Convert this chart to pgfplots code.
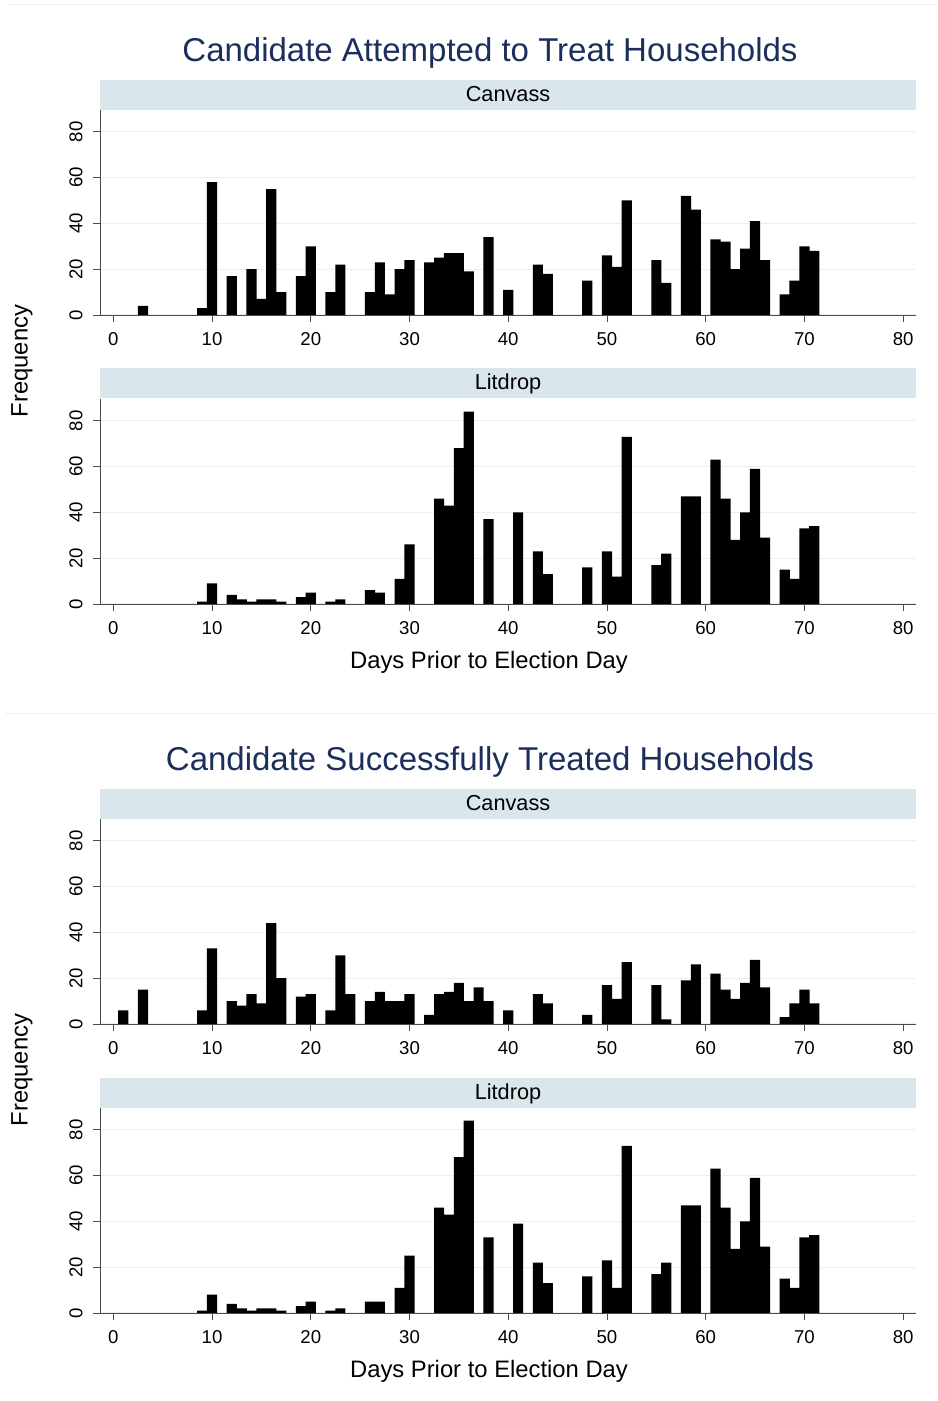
\documentclass[border=0pt]{standalone}
\usepackage{fontspec}
\setmainfont{Liberation Sans}
\usepackage{pgfplots}
\pgfplotsset{compat=1.18}

\definecolor{titleblue}{RGB}{28,46,92}
\definecolor{stripbg}{RGB}{217,230,235}
\definecolor{gridc}{RGB}{232,240,242}
\definecolor{sepc}{RGB}{238,240,242}

% one facet panel, sized in px (1pt = 1px of the reference)
\pgfplotsset{panel/.style={
  scale only axis, width=816pt, height=205pt, anchor=south west,
  xmin=-1.35, xmax=81.3, ymin=0, ymax=89.5,
  axis lines=left, axis line style={-, black!70, line width=0.9pt},
  xtick={0,10,...,80}, ytick={0,20,...,80},
  tick align=outside, major tick length=7pt,
  tick style={black!70, line width=0.9pt},
  ymajorgrids, major grid style={gridc, line width=1pt},
  tick label style={font=\fontsize{18.6}{20}\selectfont},
  /pgf/number format/assume math mode=true,
  xticklabel style={yshift=-7pt},
  yticklabel style={xshift=-7pt, rotate=90, anchor=south},
  ybar, bar width=1.03,
}}

\begin{document}
\begin{tikzpicture}[x=1pt, y=1pt]
\fill[white] (0,0) rectangle (937,1401);
\draw[sepc, line width=1pt] (8,1396) -- (937,1396);
\draw[sepc, line width=1pt] (5,687) -- (937,687);

% ---- Attempted: Canvass
\begin{axis}[panel, at={(100pt,1086pt)}]
\addplot[fill=black, draw=none] coordinates {
(3,4) (9,3) (10,58) (12,17) (14,20) (15,7) (16,55) (17,10) (19,17) (20,30)
(22,10) (23,22) (26,10) (27,23) (28,9) (29,20) (30,24) (32,23) (33,25) (34,27)
(35,27) (36,19) (38,34) (40,11) (43,22) (44,18) (48,15) (50,26) (51,21) (52,50)
(55,24) (56,14) (58,52) (59,46) (61,33) (62,32) (63,20) (64,29) (65,41) (66,24)
(68,9) (69,15) (70,30) (71,28)
};
\end{axis}

% ---- Attempted: Litdrop
\begin{axis}[panel, at={(100pt,797pt)}]
\addplot[fill=black, draw=none] coordinates {
(9,1) (10,9) (12,4) (13,2) (14,1) (15,2) (16,2) (17,1) (19,3) (20,5)
(22,1) (23,2) (26,6) (27,5) (29,11) (30,26) (33,46) (34,43) (35,68) (36,84)
(38,37) (41,40) (43,23) (44,13) (48,16) (50,23) (51,12) (52,73) (55,17) (56,22)
(58,47) (59,47) (61,63) (62,46) (63,28) (64,40) (65,59) (66,29) (68,15) (69,11)
(70,33) (71,34)
};
\end{axis}

% ---- Successful: Canvass
\begin{axis}[panel, at={(100pt,377pt)}]
\addplot[fill=black, draw=none] coordinates {
(1,6) (3,15) (9,6) (10,33) (12,10) (13,8) (14,13) (15,9) (16,44) (17,20)
(19,12) (20,13) (22,6) (23,30) (24,13) (26,10) (27,14) (28,10) (29,10) (30,13)
(32,4) (33,13) (34,14) (35,18) (36,10) (37,16) (38,10) (40,6) (43,13) (44,9)
(48,4) (50,17) (51,11) (52,27) (55,17) (56,2) (58,19) (59,26) (61,22) (62,15)
(63,11) (64,18) (65,28) (66,16) (68,3) (69,9) (70,15) (71,9)
};
\end{axis}

% ---- Successful: Litdrop
\begin{axis}[panel, at={(100pt,88pt)}]
\addplot[fill=black, draw=none] coordinates {
(9,1) (10,8) (12,4) (13,2) (14,1) (15,2) (16,2) (17,1) (19,3) (20,5)
(22,1) (23,2) (26,5) (27,5) (29,11) (30,25) (33,46) (34,43) (35,68) (36,84)
(38,33) (41,39) (43,22) (44,13) (48,16) (50,23) (51,11) (52,73) (55,17) (56,22)
(58,47) (59,47) (61,63) (62,46) (63,28) (64,40) (65,59) (66,29) (68,15) (69,11)
(70,33) (71,34)
};
\end{axis}

% strips
\foreach \yb/\lab in {1291/Canvass, 1003/Litdrop, 582/Canvass, 293/Litdrop}{
  \fill[stripbg] (100,\yb) rectangle (916,\yb+30);
  \node[font=\fontsize{21.7}{24}\selectfont, anchor=base, inner sep=0pt] at (508,\yb+8) {\lab};
}

% titles and axis titles
\node[titleblue, font=\fontsize{33}{38}\selectfont] at (490,1348) {Candidate Attempted to Treat Households};
\node[titleblue, font=\fontsize{33}{38}\selectfont] at (490,639) {Candidate Successfully Treated Households};
\node[font=\fontsize{23.8}{26}\selectfont] at (489,739) {Days Prior to Election Day};
\node[font=\fontsize{23.8}{26}\selectfont] at (489,30) {Days Prior to Election Day};
\node[font=\fontsize{23.8}{26}\selectfont, rotate=90] at (22,1040) {Frequency};
\node[font=\fontsize{23.8}{26}\selectfont, rotate=90] at (22,331) {Frequency};
\end{tikzpicture}
\end{document}
